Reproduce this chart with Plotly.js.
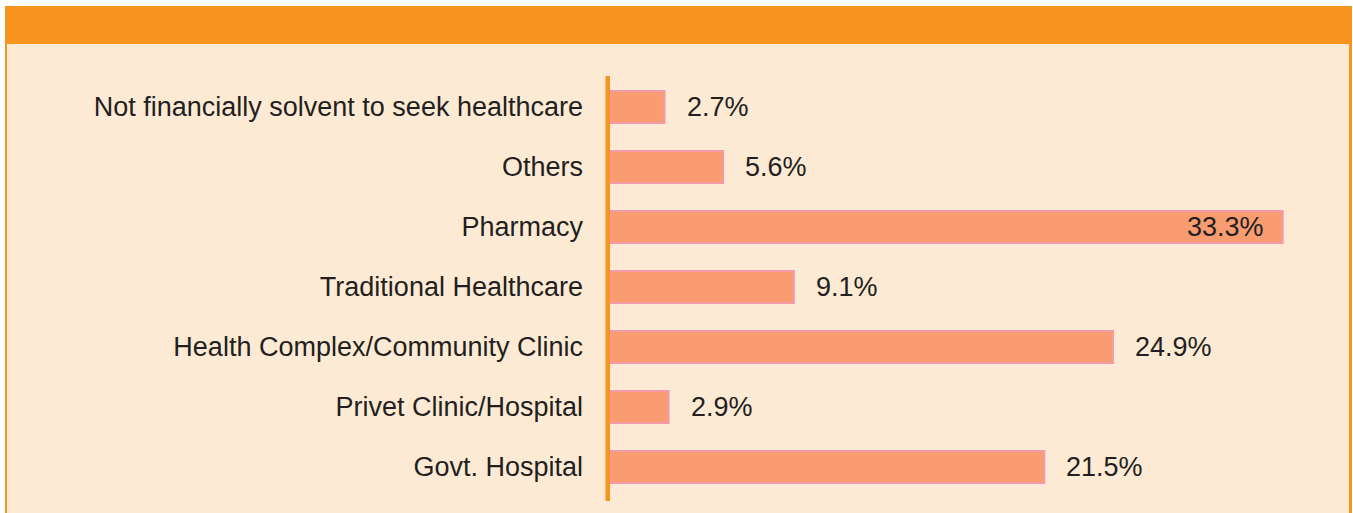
<!DOCTYPE html>
<html>
<head>
<meta charset="utf-8">
<script src="https://cdn.plot.ly/plotly-3.0.1.min.js"></script>
<style>
  html, body { margin: 0; padding: 0; background: #ffffff; }
  #chart { width: 1353px; height: 513px; }
</style>
</head>
<body>
<div id="chart"></div>
<script>
// Data (top to bottom as in the picture)
const categories = [
  "Not financially solvent to seek healthcare",
  "Others",
  "Pharmacy",
  "Traditional Healthcare",
  "Health Complex/Community Clinic",
  "Privet Clinic/Hospital",
  "Govt. Hospital"
];
const percentages = [2.7, 5.6, 33.3, 9.1, 24.9, 2.9, 21.5];

// Layout geometry (pixels)
const W = 1353, H = 513;
const ML = 610, MR = 15, MT = 77, MB = 16;
const plotW = W - ML - MR, plotH = H - MT - MB;
const px = x => (x - ML) / plotW;
const py = y => (H - MB - y) / plotH;

const ORANGE = "#F7941E";
const CREAM = "#FDEAD4";
const TEXT = "#231F20";
const FONT = "Liberation Sans, Arial, Helvetica, sans-serif";

const maxVal = Math.max(...percentages);

const trace = {
  type: "bar",
  orientation: "h",
  x: percentages,
  y: categories,
  width: 0.53,
  marker: { color: "#F99C72", line: { color: "#F39BA8", width: 2 } },
  hoverinfo: "x+y"
};

const annotations = percentages.map((v, i) => {
  const inside = v === maxVal;
  return {
    x: v, y: categories[i], xref: "x", yref: "y",
    text: v.toFixed(1) + "%",
    showarrow: false,
    xanchor: inside ? "right" : "left",
    yanchor: "middle",
    xshift: inside ? -17 : 20,
    font: { family: FONT, size: 27, color: TEXT }
  };
});

const shapes = [
  // orange frame (header + side borders)
  { type: "rect", xref: "paper", yref: "paper", layer: "below",
    x0: px(5), x1: px(1352), y0: py(6), y1: py(H),
    fillcolor: ORANGE, line: { width: 0 } },
  // cream panel
  { type: "rect", xref: "paper", yref: "paper", layer: "below",
    x0: px(7), x1: px(1349), y0: py(44), y1: py(H),
    fillcolor: CREAM, line: { width: 0 } },
  // vertical axis line
  { type: "rect", xref: "paper", yref: "paper", layer: "above",
    x0: px(605.5), x1: px(610), y0: py(76), y1: py(501),
    fillcolor: ORANGE, line: { width: 0 } }
];

const layout = {
  width: W, height: H,
  margin: { l: ML, r: MR, t: MT, b: MB, pad: 0 },
  paper_bgcolor: "rgba(0,0,0,0)",
  plot_bgcolor: "rgba(0,0,0,0)",
  showlegend: false,
  xaxis: {
    range: [0, plotW / 20.2],
    showgrid: false, zeroline: false, showline: false,
    showticklabels: false, ticks: "", fixedrange: true
  },
  yaxis: {
    type: "category",
    range: [categories.length - 0.5, -0.5],
    showgrid: false, zeroline: false, showline: false,
    ticks: "", ticklabelstandoff: 26,
    tickfont: { family: FONT, size: 27, color: TEXT },
    fixedrange: true
  },
  shapes: shapes,
  annotations: annotations
};

Plotly.newPlot("chart", [trace], layout, { displayModeBar: false, staticPlot: true });
</script>
</body>
</html>
